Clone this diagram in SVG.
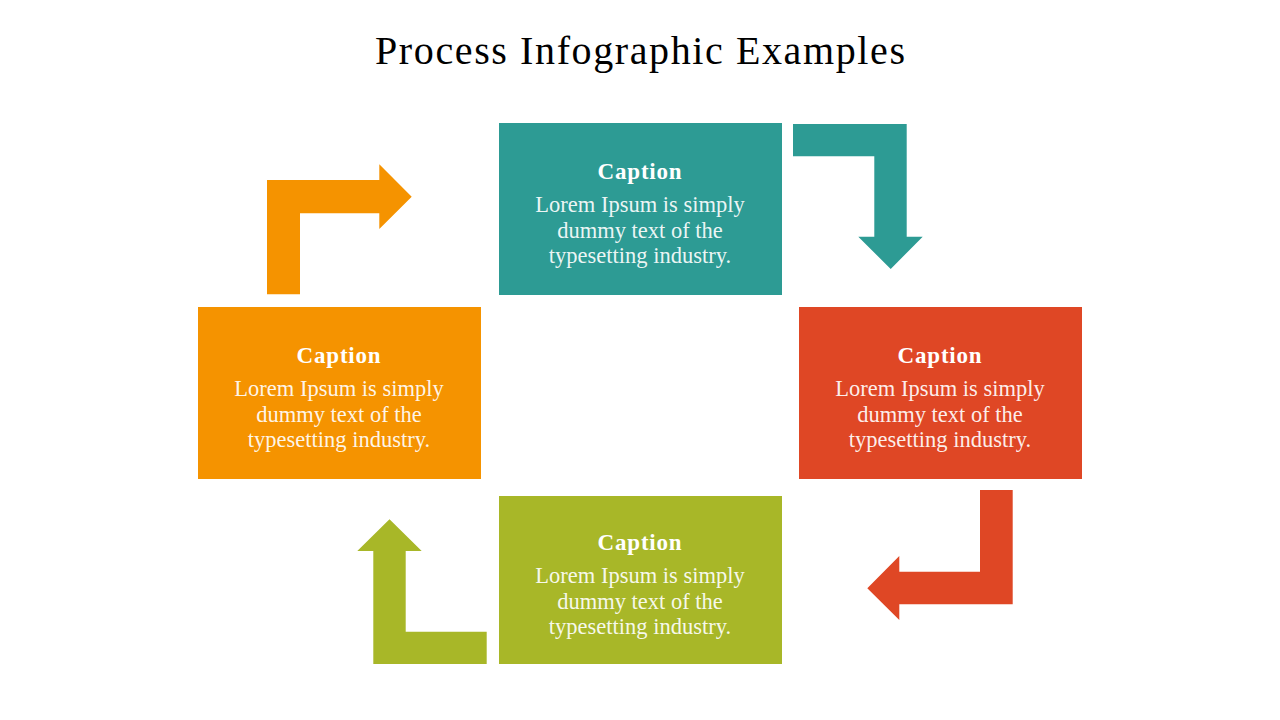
<svg xmlns="http://www.w3.org/2000/svg" width="1280" height="720" viewBox="0 0 1280 720">
<style>
.title{font-family:"Liberation Serif",serif;font-size:40px;fill:#000;text-anchor:middle}
.cap{font-family:"Liberation Serif",serif;font-size:23px;font-weight:bold;fill:#fff;text-anchor:middle;letter-spacing:0.8px}
.body{font-family:"Liberation Serif",serif;font-size:22.5px;fill:#fff;fill-opacity:0.92;text-anchor:middle}
.teal{fill:#2D9B94}.red{fill:#DF4725}.orange{fill:#F59300}.green{fill:#A8B728}
</style>
<rect width="1280" height="720" fill="#fff"/>
<text class="title" x="640" y="64" textLength="530" lengthAdjust="spacing">Process Infographic Examples</text>
<g id="connectors">
<polygon class="teal" points="793,124 906.7,124 906.7,236.7 922.7,236.7 890.7,269 858.3,236.7 874.3,236.7 874.3,156.3 793,156.3"/>
<polygon class="red" points="980,490 1012.7,490 1012.7,604.3 899.3,604.3 899.3,620 867.3,588.3 899.3,556 899.3,571.7 980,571.7"/>
<polygon class="green" points="486.7,664 373.3,664 373.3,551 357.3,551 389.5,519.3 421.7,551 405.7,551 405.7,631.7 486.7,631.7"/>
<polygon class="orange" points="267,294.3 267,180 379.3,180 379.3,164.3 411.7,196.7 379.3,229 379.3,213.3 300,213.3 300,294.3"/>
</g>
<g id="node-top">
<rect class="teal" x="499" y="123" width="283" height="172"/>
<text class="cap" x="640" y="179">Caption</text>
<text class="body" x="640" y="212">Lorem Ipsum is simply</text>
<text class="body" x="640" y="238">dummy text of the</text>
<text class="body" x="640" y="263">typesetting industry.</text>
</g>
<g id="node-right">
<rect class="red" x="799" y="307" width="283" height="172"/>
<text class="cap" x="940" y="363">Caption</text>
<text class="body" x="940" y="396">Lorem Ipsum is simply</text>
<text class="body" x="940" y="422">dummy text of the</text>
<text class="body" x="940" y="447">typesetting industry.</text>
</g>
<g id="node-left">
<rect class="orange" x="198" y="307" width="283" height="172"/>
<text class="cap" x="339" y="363">Caption</text>
<text class="body" x="339" y="396">Lorem Ipsum is simply</text>
<text class="body" x="339" y="422">dummy text of the</text>
<text class="body" x="339" y="447">typesetting industry.</text>
</g>
<g id="node-bottom">
<rect class="green" x="499" y="496" width="283" height="168"/>
<text class="cap" x="640" y="550">Caption</text>
<text class="body" x="640" y="583">Lorem Ipsum is simply</text>
<text class="body" x="640" y="609">dummy text of the</text>
<text class="body" x="640" y="634">typesetting industry.</text>
</g>
</svg>
